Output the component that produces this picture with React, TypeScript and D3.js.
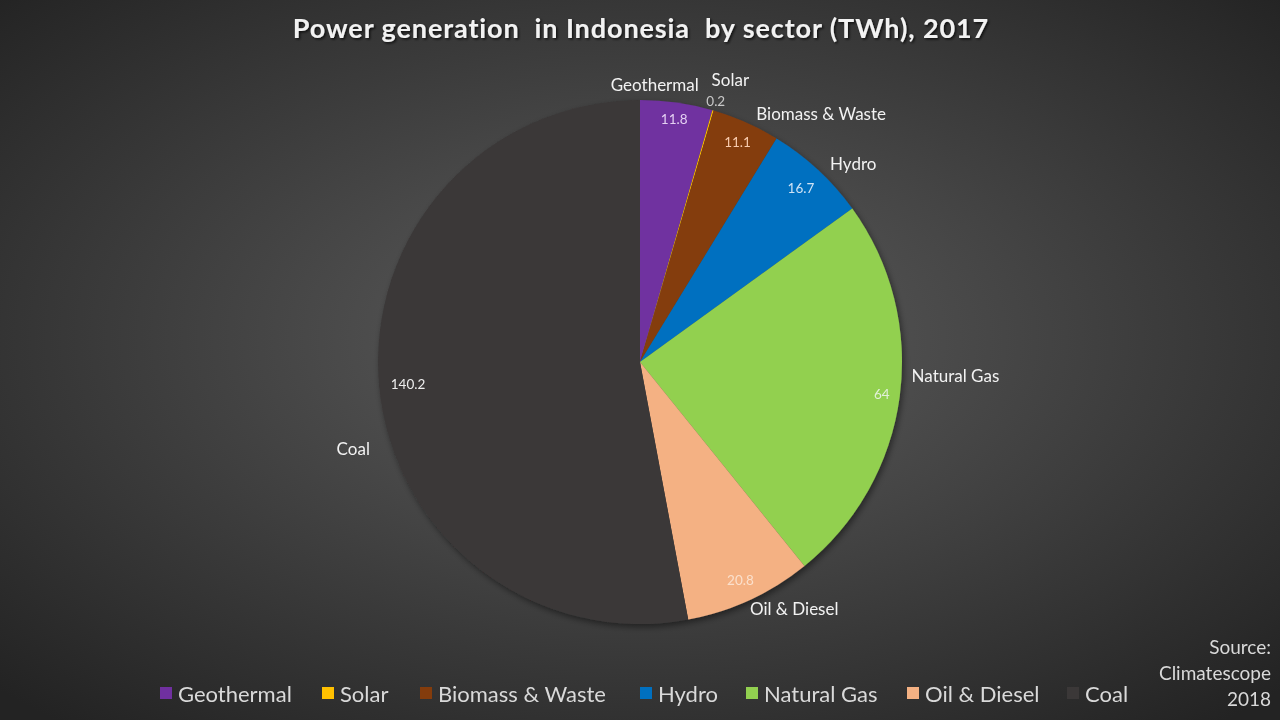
import React from 'react';
import * as d3 from 'd3';

const categories = ['Geothermal', 'Solar', 'Biomass & Waste', 'Hydro', 'Natural Gas', 'Oil & Diesel', 'Coal'];
const values = [11.8, 0.2, 11.1, 16.7, 64, 20.8, 140.2];
const valueLabels = ['11.8', '0.2', '11.1', '16.7', '64', '20.8', '140.2'];
const colors = ['#7030A0', '#FFC000', '#843C0C', '#0070C0', '#92D050', '#F4B183', '#3B3838'];
const valueColors = ['#E4D0F2', '#C8C8C8', '#F8CBAD', '#CFE3F5', '#E2F0D9', '#FBE0CC', '#EDEDED'];
const title = 'Power generation  in Indonesia  by sector (TWh), 2017';
const sourceLines = ['Source:', 'Climatescope', '2018'];

// layout tweaks (label placement, like manually positioned labels)
const valueRadius = [245, 272, 241, 237, 244, 240, 233];
const nameNudge: [number, number][] = [[-26, 12], [9, -2], [63, 19], [15, 16], [26, -25], [32, -19], [4, 60]];
const legendX = [160, 322, 420, 640, 746, 907, 1067];

const W = 1280, H = 720;
const cx = 640, cy = 362, R = 262;
const FONT = 'Lato, "Open Sans", sans-serif';

export default function App() {
  const pie = d3.pie<number>().sort(null).value((d) => d)(values);
  const arc = d3.arc<d3.PieArcDatum<number>>().innerRadius(0).outerRadius(R);
  const pt = (a: number, r: number) => [Math.sin(a) * r, -Math.cos(a) * r];

  return (
    <svg width={W} height={H} style={{ position: 'fixed', left: 0, top: 0, display: 'block' }} fontFamily={FONT}>
      <defs>
        <radialGradient id="bg" cx="50%" cy="47%" r="70%">
          <stop offset="0%" stopColor="#5e5e5e" />
          <stop offset="100%" stopColor="#232323" />
        </radialGradient>
        <filter id="sh" x="-20%" y="-20%" width="140%" height="140%">
          <feDropShadow dx="2" dy="3" stdDeviation="3" floodColor="#000" floodOpacity="0.45" />
        </filter>
        <filter id="tsh" x="-10%" y="-30%" width="120%" height="160%">
          <feDropShadow dx="1.5" dy="1.5" stdDeviation="1" floodColor="#000" floodOpacity="0.7" />
        </filter>
      </defs>
      <rect width={W} height={H} fill="url(#bg)" />
      <text x={641} y={38} textAnchor="middle" fill="#f2f2f2" fontSize={27} fontWeight="bold" letterSpacing={0.9} filter="url(#tsh)" style={{ whiteSpace: 'pre' }}>
        {title}
      </text>
      <g transform={`translate(${cx},${cy})`}>
        <g filter="url(#sh)">
          {pie.map((d, i) => (
            <path key={i} d={arc(d) || ''} fill={colors[i]} />
          ))}
        </g>
        {pie.map((d, i) => {
          const m = (d.startAngle + d.endAngle) / 2;
          const [x, y] = pt(m, valueRadius[i]);
          return (
            <text key={'v' + i} x={x} y={y} textAnchor="middle" dominantBaseline="central" fontSize={13.5} fill={valueColors[i]}>
              {valueLabels[i]}
            </text>
          );
        })}
        {pie.map((d, i) => {
          const m = (d.startAngle + d.endAngle) / 2;
          const [x, y] = pt(m, R + 30);
          return (
            <text key={'n' + i} x={x + nameNudge[i][0]} y={y + nameNudge[i][1]} textAnchor="middle" dominantBaseline="central" fontSize={17} fill="#f2f2f2">
              {categories[i]}
            </text>
          );
        })}
      </g>
      <g>
        {categories.map((c, i) => (
          <g key={'l' + i} transform={`translate(${legendX[i]},693)`}>
            <rect x={0} y={-6} width={12} height={12} fill={colors[i]} />
            <text x={18} y={0} dominantBaseline="central" fontSize={22} fill="#d9d9d9">{c}</text>
          </g>
        ))}
      </g>
      {sourceLines.map((s, i) => (
        <text key={'s' + i} x={1271} y={646 + i * 26} textAnchor="end" dominantBaseline="central" fontSize={19} fill="#d9d9d9">{s}</text>
      ))}
    </svg>
  );
}
